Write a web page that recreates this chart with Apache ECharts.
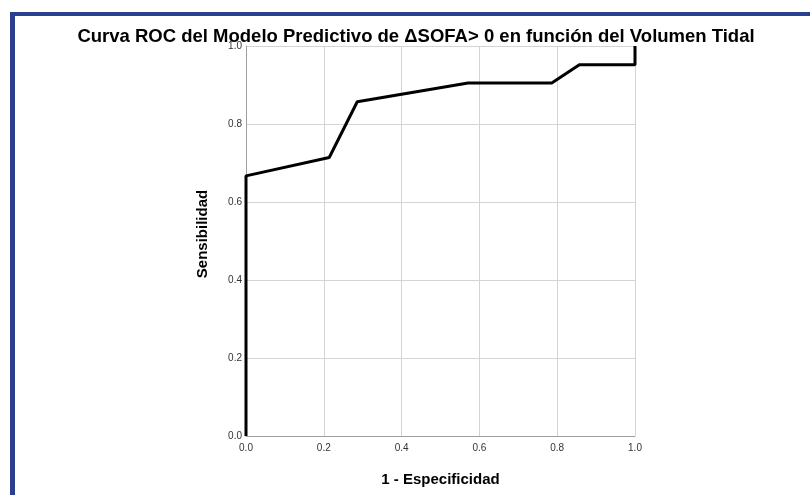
<!DOCTYPE html>
<html>
<head>
<meta charset="utf-8">
<script src="https://cdn.jsdelivr.net/npm/echarts@6/dist/echarts.min.js"></script>
<style>
html,body{margin:0;padding:0;background:#fff;}
#frame{position:absolute;left:10px;top:12px;width:800px;height:483px;border-left:5px solid #2b3f8f;border-top:4px solid #2b3f8f;box-sizing:border-box;}
#chart{position:absolute;left:0;top:0;width:810px;height:495px;}
</style>
</head>
<body>
<div id="frame"></div>
<div id="chart"></div>
<script>
const fpr = [0, 0, 0.214, 0.286, 0.571, 0.786, 0.857, 1.0, 1.0];
const tpr = [0, 0.667, 0.714, 0.857, 0.905, 0.905, 0.952, 0.952, 1.0];
const titleText = 'Curva ROC del Modelo Predictivo de ΔSOFA> 0 en función del Volumen Tidal';
const xName = '1 - Especificidad';
const yName = 'Sensibilidad';

const chart = echarts.init(document.getElementById('chart'));
const font = '"Liberation Sans", Arial, sans-serif';
chart.setOption({
  animation: false,
  title: {
    text: titleText, left: 411, top: 22, textAlign: 'center',
    textStyle: {fontFamily: font, fontSize: 18.5, fontWeight: 'bold', color: '#000'}
  },
  grid: {left: 246, right: 175, top: 46, bottom: 59},
  xAxis: {
    type: 'value', min: 0, max: 1, interval: 0.2,
    name: xName, nameLocation: 'middle', nameGap: 36,
    nameTextStyle: {fontFamily: font, fontSize: 15, fontWeight: 'bold', color: '#000'},
    axisLine: {show: true, lineStyle: {color: '#a0a0a0', width: 1}},
    axisTick: {show: false},
    axisLabel: {fontFamily: font, fontSize: 10, color: '#333', margin: 7, formatter: v => v.toFixed(1)},
    splitLine: {show: true, lineStyle: {color: '#d4d4d4', width: 1}}
  },
  yAxis: {
    type: 'value', min: 0, max: 1, interval: 0.2,
    name: yName, nameLocation: 'middle', nameGap: 36,
    nameTextStyle: {fontFamily: font, fontSize: 15, fontWeight: 'bold', color: '#000', padding: [0, 0, 0, 14]},
    axisLine: {show: true, lineStyle: {color: '#a0a0a0', width: 1}},
    axisTick: {show: false},
    axisLabel: {fontFamily: font, fontSize: 10, color: '#333', margin: 4, formatter: v => v.toFixed(1)},
    splitLine: {show: true, lineStyle: {color: '#d4d4d4', width: 1}}
  },
  series: [{
    type: 'line',
    data: fpr.map((x, i) => [x, tpr[i]]),
    symbol: 'none',
    lineStyle: {color: '#000', width: 3},
    clip: false
  }]
});
</script>
</body>
</html>
